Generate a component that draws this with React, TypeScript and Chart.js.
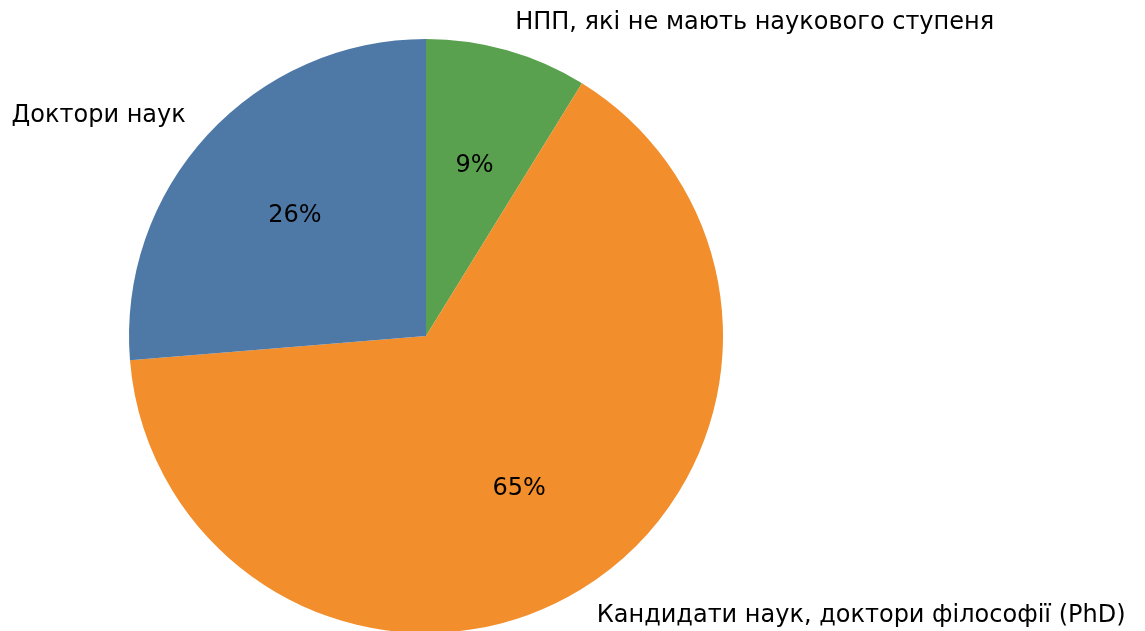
import React, { useEffect, useRef } from "react";
import { Chart, registerables } from "chart.js";

Chart.register(...registerables);

const labels = [
  "НПП, які не мають наукового ступеня",
  "Кандидати наук, доктори філософії (PhD)",
  "Доктори наук",
];
const values = [8.8, 64.9, 26.3];
const pctLabels = ["9%", "65%", "26%"];
const colors = ["#59a14f", "#f28e2b", "#4e79a7"];

const labelPlugin = {
  id: "pieLabels",
  afterDraw(chart: any) {
    const ctx = chart.ctx;
    const meta = chart.getDatasetMeta(0);
    ctx.save();
    ctx.font = "24px 'DejaVu Sans'";
    ctx.fillStyle = "#000";
    ctx.textBaseline = "middle";
    meta.data.forEach((arc: any, i: number) => {
      const { x, y, startAngle, endAngle, outerRadius } = arc.getProps(
        ["x", "y", "startAngle", "endAngle", "outerRadius"],
        true
      );
      const mid = (startAngle + endAngle) / 2;
      const cx = Math.cos(mid);
      const cy = Math.sin(mid);
      const lx = x + cx * outerRadius * 1.1;
      const ly = y + cy * outerRadius * 1.1;
      ctx.textAlign = cx >= 0 ? "left" : "right";
      ctx.fillText(labels[i], lx, ly + 1);
      ctx.textAlign = "center";
      ctx.fillText(pctLabels[i], x + cx * outerRadius * 0.6, y + cy * outerRadius * 0.6 + 1);
    });
    ctx.restore();
  },
};

export default function App() {
  const ref = useRef<HTMLCanvasElement>(null);
  useEffect(() => {
    document.body.style.margin = "0";
    document.body.style.overflow = "hidden";
    const chart = new Chart(ref.current!, {
      type: "pie",
      data: {
        labels,
        datasets: [
          {
            data: values,
            backgroundColor: colors,
            borderWidth: 0,
            hoverOffset: 0,
            offset: 0,
          },
        ],
      },
      options: {
        responsive: false,
        animation: false,
        events: [],
        layout: { padding: { left: 129, right: 422, top: 39, bottom: 67 } },
        plugins: {
          legend: { display: false },
          tooltip: { enabled: false },
        },
      },
      plugins: [labelPlugin],
    });
    return () => chart.destroy();
  }, []);
  return (
    <div style={{ position: "fixed", left: 0, top: 0, width: 1145, height: 631, overflow: "hidden", background: "#fff" }}>
      <canvas ref={ref} width={1145} height={700} style={{ display: "block" }} />
    </div>
  );
}
